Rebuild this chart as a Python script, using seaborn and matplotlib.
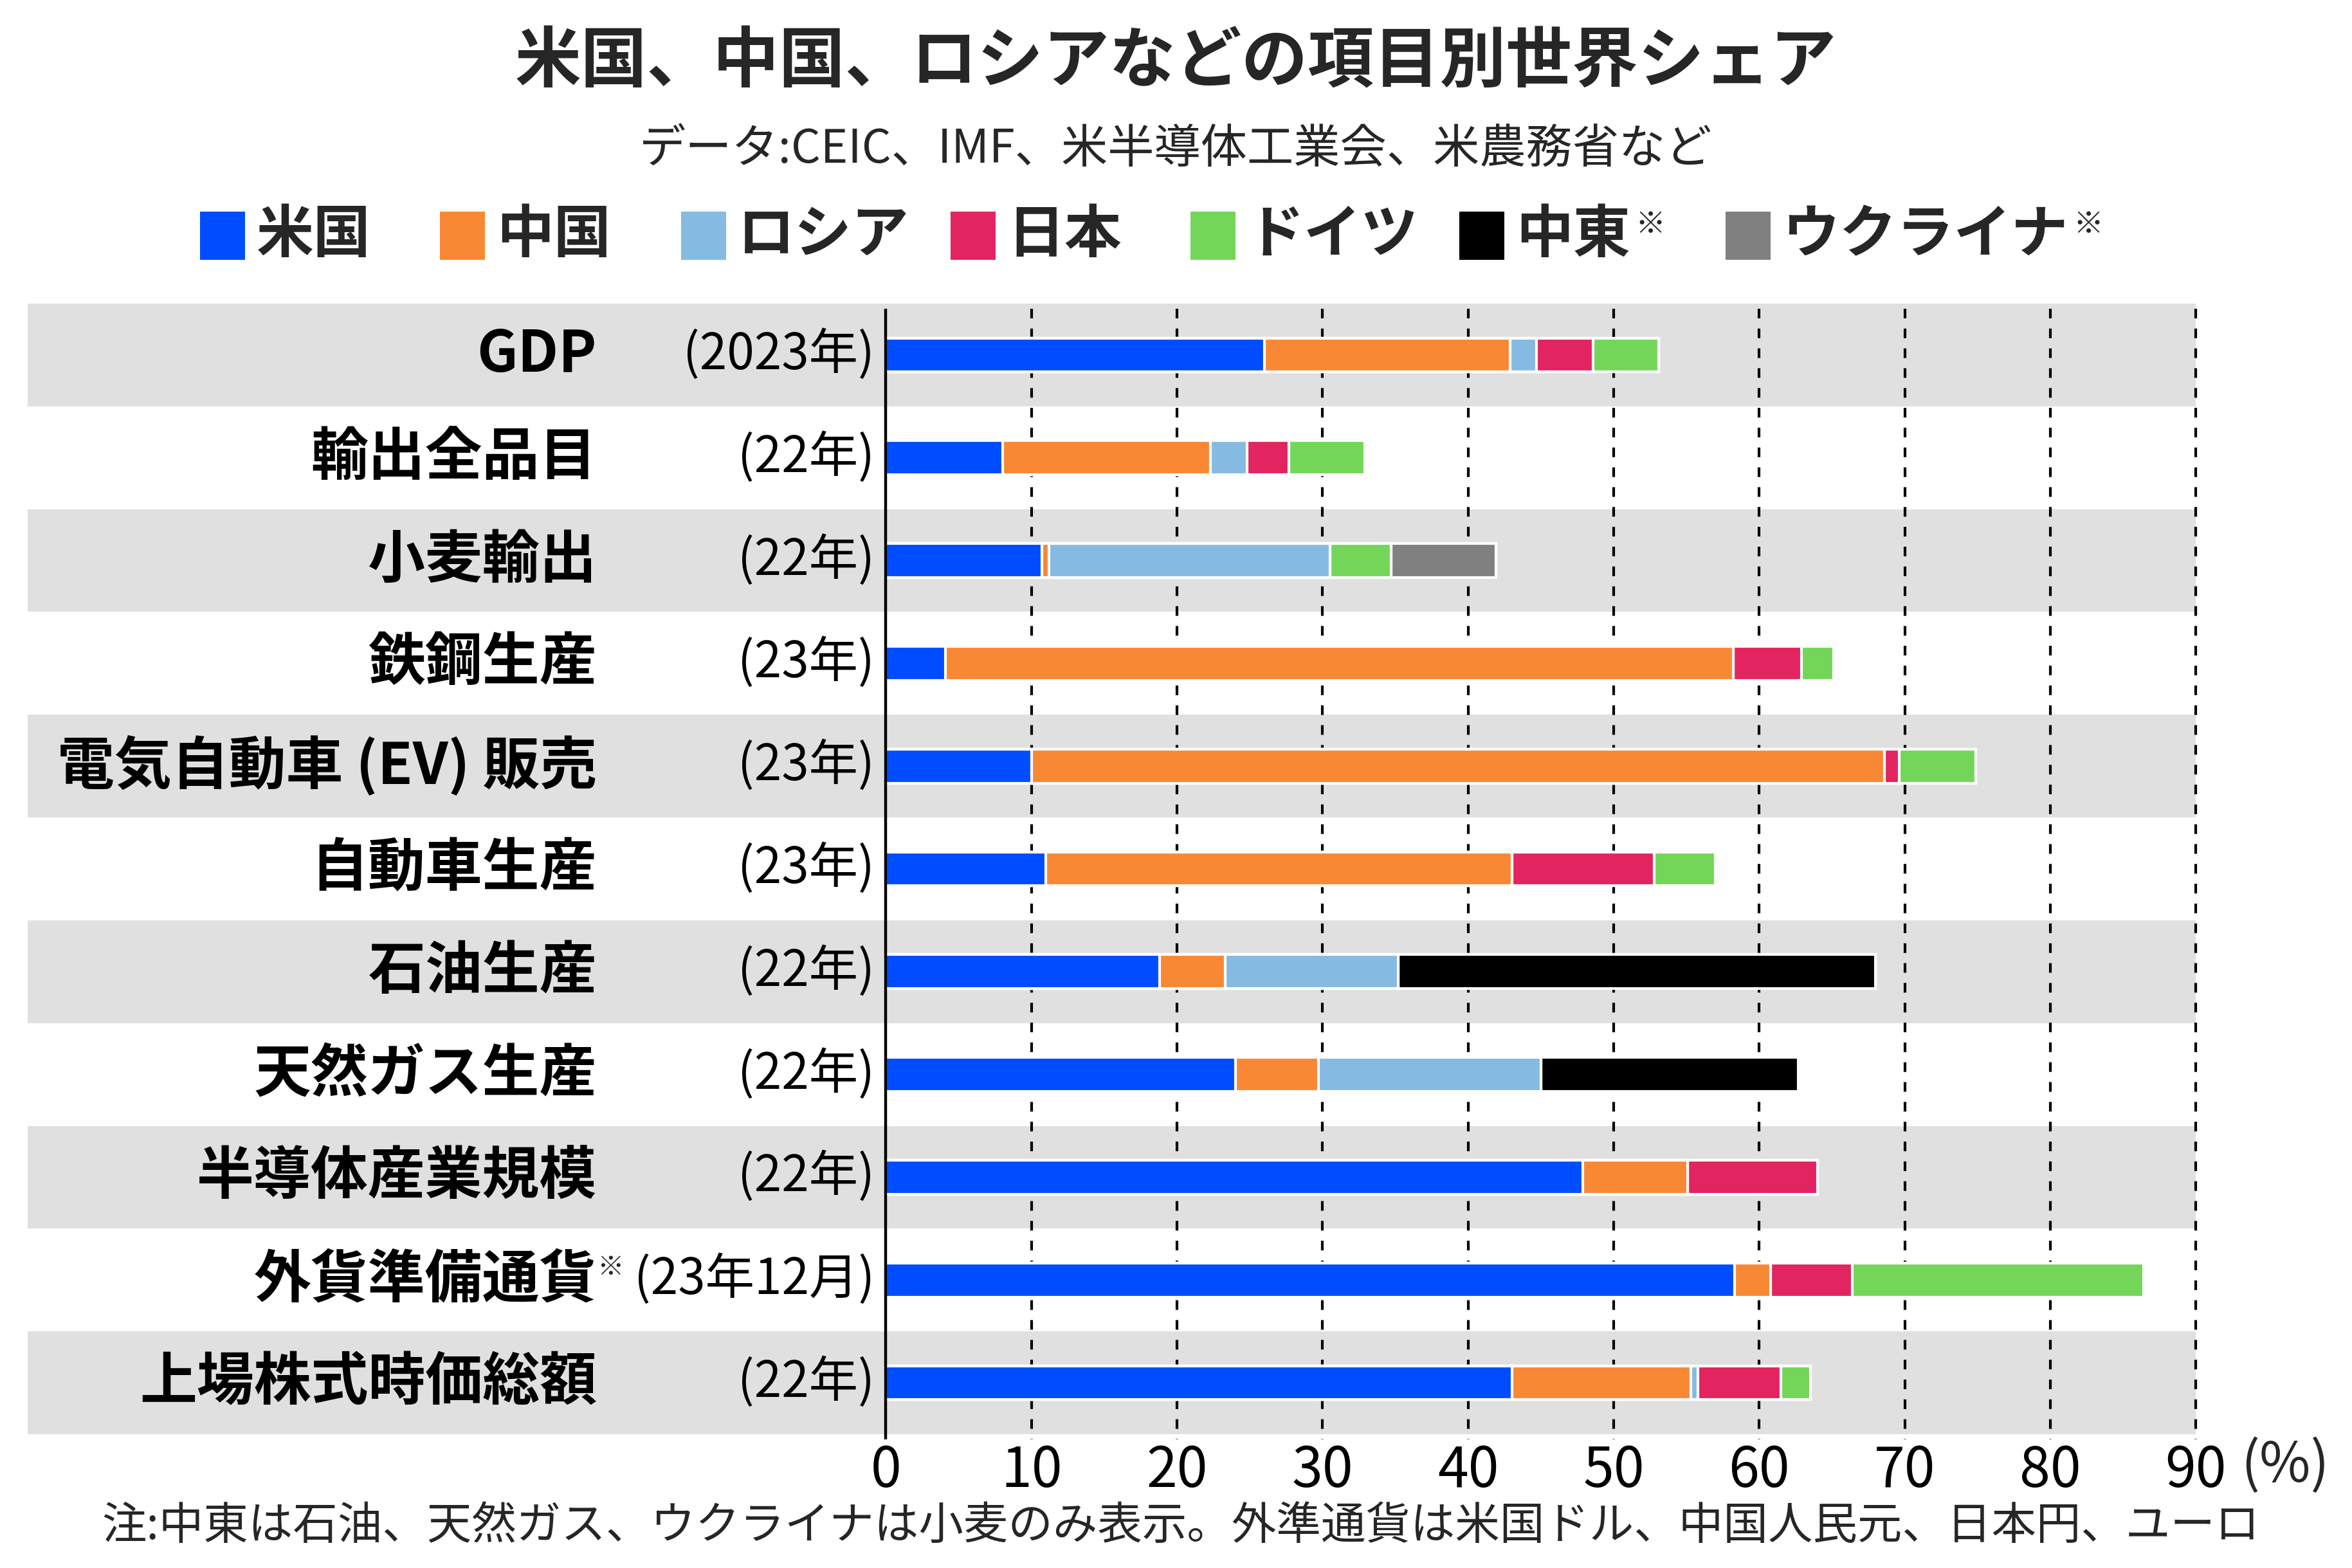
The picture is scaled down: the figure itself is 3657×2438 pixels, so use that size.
import matplotlib
matplotlib.use("Agg")
import matplotlib.pyplot as plt
import seaborn as sns
import numpy as np
import pandas as pd
from matplotlib.patches import Rectangle

# ---------------- data ----------------
categories = ["GDP", "輸出全品目", "小麦輸出", "鉄鋼生産", "電気自動車 (EV) 販売", "自動車生産",
              "石油生産", "天然ガス生産", "半導体産業規模", "外貨準備通貨", "上場株式時価総額"]
periods = ["(2023年)", "(22年)", "(22年)", "(23年)", "(23年)", "(23年)",
           "(22年)", "(22年)", "(22年)", "(23年12月)", "(22年)"]

us      = [26.0, 8.0, 10.7, 4.1, 10.0, 11.0, 18.8, 24.0, 47.9, 58.3, 43.0]
china   = [16.9, 14.3, 0.5, 54.1, 58.6, 32.0, 4.5, 5.7, 7.2, 2.5, 12.3]
russia  = [1.8, 2.5, 19.3, 0.0, 0.0, 0.0, 11.9, 15.3, 0.0, 0.0, 0.5]
japan   = [3.9, 2.9, 0.0, 4.7, 1.0, 9.8, 0.0, 0.0, 8.9, 5.6, 5.7]
germany = [4.5, 5.2, 4.2, 2.2, 5.3, 4.2, 0.0, 0.0, 0.0, 20.0, 2.0]
mideast = [0.0, 0.0, 0.0, 0.0, 0.0, 0.0, 32.8, 17.7, 0.0, 0.0, 0.0]
ukraine = [0.0, 0.0, 7.2, 0.0, 0.0, 0.0, 0.0, 0.0, 0.0, 0.0, 0.0]

series_names = ["米国", "中国", "ロシア", "日本", "ドイツ", "中東", "ウクライナ"]
series_marked = [False, False, False, False, False, True, True]
colors = ["#004cff", "#f98835", "#85bbe2", "#e22460", "#74d659", "#000000", "#808080"]

xticks = [0, 10, 20, 30, 40, 50, 60, 70, 80, 90]
xticklabels = ["0", "10", "20", "30", "40", "50", "60", "70", "80", "90"]

title = "米国、中国、ロシアなどの項目別世界シェア"
subtitle = "データ:CEIC、IMF、米半導体工業会、米農務省など"
note = "注:中東は石油、天然ガス、ウクライナは小麦のみ表示。外準通貨は米国ドル、中国人民元、日本円、ユーロ"

# ---------------- figure ----------------
W, H, DPI = 3657, 2438, 200
sns.set_theme(style="white")
plt.rcParams["font.family"] = ["Noto Sans CJK JP", "DejaVu Sans"]

fig = plt.figure(figsize=(W / DPI, H / DPI), dpi=DPI)
fig.patch.set_facecolor("white")

X0PX, UNIT = 1377.5, 22.63          # pixel of x=0 and pixels per 1%
AX_L, AX_T, AX_B = 43, 472, 2230
AX_R = X0PX + 90 * UNIT
x_left = -(X0PX - AX_L) / UNIT
ax = fig.add_axes([AX_L / W, 1 - AX_B / H, (AX_R - AX_L) / W, (AX_B - AX_T) / H])

def fx(px):
    return px / W

def fy(py):
    return 1 - py / H

df = pd.DataFrame({"category": categories})
vals = [us, china, russia, japan, germany, mideast, ukraine]
for name, v in zip(series_names, vals):
    df[name] = v
cum = df[series_names].cumsum(axis=1)

# stacked bars: draw cumulative totals from largest to smallest
for k in reversed(range(len(series_names))):
    sns.barplot(x=cum[series_names[k]], y=df["category"], order=categories, orient="y",
                color=colors[k], saturation=1, width=0.33, edgecolor="white",
                linewidth=1.5, errorbar=None, ax=ax, zorder=3)

ax.set_xlim(x_left, 90)
ax.set_ylim(10.5, -0.5)
ax.set_ylabel("")
ax.set_xlabel("")
ax.set_yticks([])
for s in ax.spines.values():
    s.set_visible(False)
ax.set_facecolor("white")

# alternating bands
for i in range(0, len(categories), 2):
    ax.axhspan(i - 0.5, i + 0.5, color="#e0e0e0", lw=0, zorder=0)

# grid lines
for t in xticks[1:]:
    ax.plot([t, t], [-0.45, 10.55], color="black", lw=1.5, ls=(0, (3.6, 3.8)),
            zorder=1, clip_on=False)
ax.plot([0, 0], [-0.45, 10.55], color="black", lw=1.6, zorder=6, clip_on=False,
        solid_capstyle="butt")

ax.set_xticks(xticks)
ax.set_xticklabels(xticklabels, fontsize=31)
ax.tick_params(axis="x", length=0, pad=5, colors="black")

# row labels
lab_x = (928 - X0PX) / UNIT
per_x = (1360 - X0PX) / UNIT
label_texts = []
for i, (c, p) in enumerate(zip(categories, periods)):
    t = ax.text(lab_x, i, c, ha="right", va="center", fontsize=32, fontweight="bold",
                color="black", zorder=7)
    label_texts.append(t)
    ax.text(per_x, i, p, ha="right", va="center", fontsize=27.5, color="black", zorder=7)

# titles
fig.text(0.5, fy(97), title, ha="center", va="center", fontsize=37, fontweight="bold")
fig.text(fx(1828), fy(232), subtitle, ha="center", va="center", fontsize=26)
fig.text(fx(158), fy(2374), note, ha="left", va="center", fontsize=25)
fig.text(fx(3484), fy(2280), "(%)", ha="left", va="center", fontsize=31)

# legend
sq_left = [311, 684, 1059, 1478, 1851, 2269, 2683]
sq_w, sq_top, sq_bot = 70, 329, 404
legend_texts = []
for k, name in enumerate(series_names):
    fig.patches.append(Rectangle((fx(sq_left[k]), fy(sq_bot)), sq_w / W, (sq_bot - sq_top) / H,
                                 transform=fig.transFigure, facecolor=colors[k],
                                 edgecolor="none"))
    t = fig.text(fx(sq_left[k] + sq_w + 18), fy(366), name, ha="left", va="center",
                 fontsize=32, fontweight="bold")
    legend_texts.append(t)

# superscript marks
fig.canvas.draw()
r = fig.canvas.get_renderer()
def add_mark(t, dx=6, dy=0, size=17):
    bb = t.get_window_extent(renderer=r)
    fig.text((bb.x1 + dx) / W, (bb.y1 + dy) / H, "※", ha="left", va="top", fontsize=size)

for k, t in enumerate(legend_texts):
    if series_marked[k]:
        add_mark(t, dx=8, dy=-4)
add_mark(label_texts[9], dx=0, dy=-6, size=15)

fig.savefig("out.png", dpi=DPI, facecolor="white")
